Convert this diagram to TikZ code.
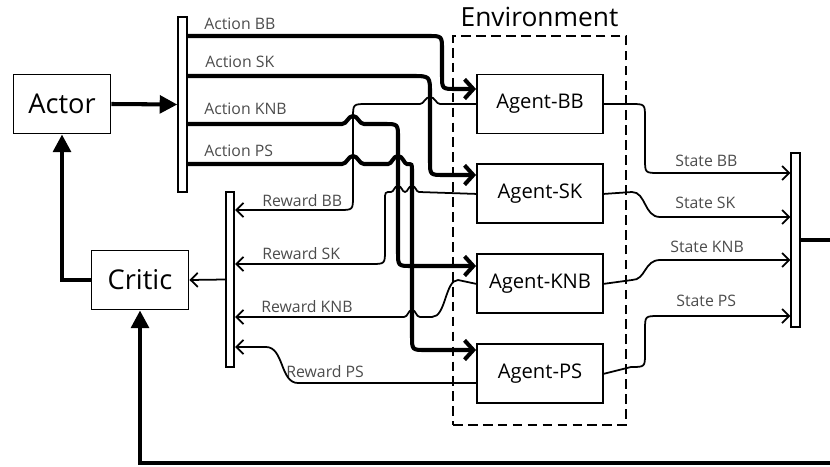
\documentclass[tikz,border=0pt]{standalone}
\usepackage{fontspec}
\setmainfont{Open Sans}
\usepackage{tikz}
\usetikzlibrary{positioning,arrows.meta}
\tikzset{node distance=0.58cm,
  box/.style={draw, line width=1.1pt, minimum width=1.94cm, minimum height=1.18cm, inner sep=0pt, font=\fontsize{15.5}{17}\selectfont},
  agent/.style={draw, line width=1.1pt, minimum width=2.52cm, minimum height=1.18cm, inner sep=0pt, font=\fontsize{11.5}{13}\selectfont},
  bar/.style={draw, line width=1.1pt, minimum width=0.17cm, minimum height=3.5cm, inner sep=0pt},
  lbl/.style={anchor=west, inner sep=0pt, text=black!70, font=\fontsize{9}{10}\selectfont},
  act/.style={line width=2.3pt, -{Straight Barb[length=5pt,width=11pt]}},
  sig/.style={line width=1pt, -{Straight Barb[length=4pt,width=8pt]}},
  main/.style={line width=2.3pt, -{Triangle[length=10pt,width=10pt]}}
}

\begin{document}
\begin{tikzpicture}[x=0.02cm, y=-0.02cm]
  \useasboundingbox (0,0) rectangle (830,466);
  \clip (0,0) rectangle (830,466);

  \node (actor) [box] at (62,104) {Actor};
  \node (critic) [box] at (140,280) {Critic};

  \node (actbar) [bar] at (182.5,104.5) {};
  \node (rewbar) [bar] at (230,279.5) {};
  \node (stbar) [bar, minimum height=3.48cm] at (795.5,240) {};

  \node (env) [draw, dash pattern=on 5.5pt off 3pt, line width=1.1pt,
               minimum width=3.46cm, minimum height=7.78cm] at (539.5,230.5) {};
  \node (envlbl) [above=0.16cm of env, inner sep=0pt, font=\fontsize{15}{17}\selectfont] {Environment};

  \node (agBB) [agent] at (540,104) {Agent-BB};
  \node (agSK) [agent, below=of agBB] {Agent-SK};
  \node (agKNB) [agent, below=of agSK] {Agent-KNB};
  \node (agPS) [agent, below=of agKNB] {Agent-PS};

  % labels
  \node (lAB) [lbl] at (204,24) {Action BB};
  \node (lAS) [lbl] at (205,62) {Action SK};
  \node (lAK) [lbl] at (204,109) {Action KNB};
  \node (lAP) [lbl] at (204,151) {Action PS};
  \node (lRB) [lbl] at (262,201) {Reward BB};
  \node (lRS) [lbl] at (262,254) {Reward SK};
  \node (lRK) [lbl] at (261,307) {Reward KNB};
  \node (lRP) [lbl] at (286,372) {Reward PS};
  \node (lSB) [lbl] at (675,161) {State BB};
  \node (lSS) [lbl] at (675,203) {State SK};
  \node (lSK) [lbl] at (670,247) {State KNB};
  \node (lSP) [lbl] at (676,301) {State PS};

  % actor / critic loop
  \draw [main] (actor.east) -- (actbar.west);
  \draw [main] (critic.west) -| (actor.south);
  \draw [sig] (rewbar.west) -- (critic.east);
  \draw [main] (stbar.east) -- (840,240) |- (critic |- 0,463) -- (critic.south);

  % actions
  \draw [act] (actbar.east |- 0,36) -- (428,36) .. controls (442,36) .. (442,50)
        -- (442,75) .. controls (442,89) .. (456,89) -- (agBB.west |- 0,89);
  \draw [act] (actbar.east |- 0,76) -- (412,76) .. controls (430,76) .. (430,94)
        -- (430,161) .. controls (430,175) .. (444,175) -- (agSK.west |- 0,175);
  \draw [act] (actbar.east |- 0,124) -- (342,124)
        .. controls (347,124) and (348,116) .. (353,116) .. controls (358,116) and (359,124) .. (364,124)
        -- (384,124) .. controls (398,124) .. (398,138)
        -- (398,252) .. controls (398,266) .. (412,266) -- (agKNB.west |- 0,266);
  \draw [act] (actbar.east |- 0,164) -- (342,164)
        .. controls (347,164) and (348,156) .. (353,156) .. controls (358,156) and (359,164) .. (364,164)
        -- (388,164) .. controls (392,164) and (393,156) .. (398,156) .. controls (403,156) and (404,164) .. (407,164)
        .. controls (412,164) .. (412,170)
        -- (412,336) .. controls (412,350) .. (426,350) -- (agPS.west |- 0,350);

  % rewards
  \draw [sig] (agBB.west) -- (440,104)
        .. controls (436,104) and (435,97) .. (430,97) .. controls (425,97) and (424,104) .. (420,104)
        -- (367,104) .. controls (353,104) .. (353,118)
        -- (353,196) .. controls (353,210) .. (339,210) -- (rewbar.east |- 0,210);
  \draw [sig] (agSK.west) -- (419,192)
        .. controls (416,192) and (416,186) .. (412,186) .. controls (408,186) and (408,192) .. (405,192)
        .. controls (402,192) and (402,186) .. (398,186) .. controls (394,186) and (394,192) .. (391,192)
        .. controls (385,192) .. (385,200)
        -- (385,250) .. controls (385,264) .. (371,264) -- (rewbar.east |- 0,264);
  \draw [sig] (agKNB.west) -- (458,280) .. controls (445,280) and (446,317) .. (432,317)
        -- (420,317) .. controls (416,317) and (416,310) .. (412,310) .. controls (408,310) and (408,317) .. (404,317)
        -- (rewbar.east |- 0,317);
  \draw [sig] (agPS.west |- 0,383) -- (298,383) .. controls (280,383) and (284,347) .. (266,347)
        -- (rewbar.east |- 0,347);

  % states
  \draw [sig] (agBB.east) -- (631,104) .. controls (645,104) .. (645,118)
        -- (645,159) .. controls (645,173) .. (659,173) -- (stbar.west |- 0,173);
  \draw [sig] (agSK.east) -- (632,192) .. controls (646,192) and (644,217) .. (660,217)
        -- (stbar.west |- 0,217);
  \draw [sig] (agKNB.east) -- (632,280) .. controls (646,280) and (644,260) .. (660,260)
        -- (stbar.west |- 0,260);
  \draw [sig] (agPS.east) -- (631,367) .. controls (645,367) .. (645,353)
        -- (645,330) .. controls (645,316) .. (659,316) -- (stbar.west |- 0,316);

\end{tikzpicture}
\end{document}
